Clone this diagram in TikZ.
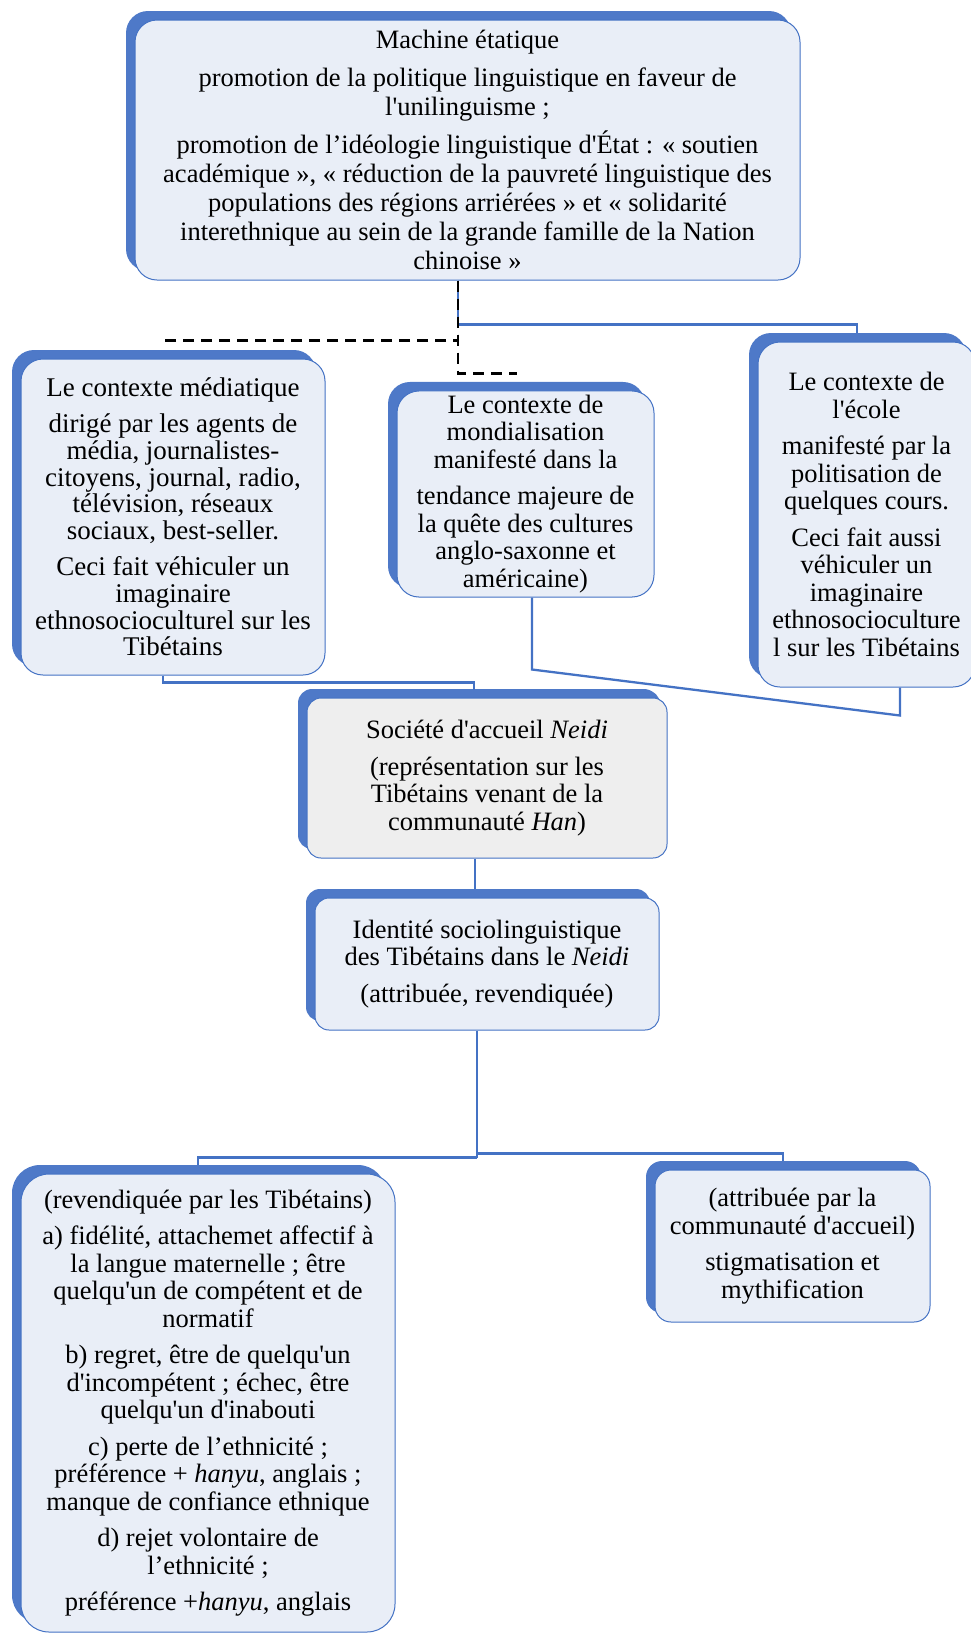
\documentclass[tikz,border=0pt]{standalone}
\usepackage{fontspec}
\setmainfont{Liberation Serif}[Ligatures=TeXOff]
\usetikzlibrary{shadows}
\definecolor{plaque}{RGB}{78,121,200}
\definecolor{trait}{RGB}{68,114,196}
\definecolor{fond}{RGB}{233,238,247}
\definecolor{fondgris}{RGB}{238,238,238}

\begin{document}
\begin{tikzpicture}[x=1pt, y=-1pt,
  cadre/.style={draw=trait, line width=1pt, fill=fond, rounded corners=22pt,
                align=center, inner sep=4pt, font=\fontsize{26.5}{27.5}\selectfont,
                general shadow={shadow xshift=-9pt, shadow yshift=9pt, fill=plaque}},
  cadregris/.style={cadre, fill=fondgris, rounded corners=14pt},
  lien/.style={draw=trait, line width=2.3pt},
  pointille/.style={draw=black, line width=2.3pt, dash pattern=on 11pt off 7pt}
]
  \useasboundingbox (0,0) rectangle (970,1634);

  \node[cadre, minimum width=665pt, minimum height=260pt, font=\fontsize{26.5}{28.9}\selectfont] (etat) at (467.5,150)
    {Machine étatique\\[9pt]
     promotion de la politique linguistique en faveur de\\
     l'unilinguisme ;\\[9pt]
     promotion de l’idéologie linguistique d'État : « soutien\\
     académique », « réduction de la pauvreté linguistique des\\
     populations des régions arriérées » et « solidarité\\
     interethnique au sein de la grande famille de la Nation\\
     chinoise »};
  \node[cadre, minimum width=304pt, minimum height=316pt, font=\fontsize{27}{26.8}\selectfont] (media) at (173,517)
    {Le contexte médiatique\\[9pt]
     dirigé par les agents de\\
     média, journalistes-\\
     citoyens, journal, radio,\\
     télévision, réseaux\\
     sociaux, best-seller.\\[9pt]
     Ceci fait véhiculer un\\
     imaginaire\\
     ethnosocioculturel sur les\\
     Tibétains};
  \node[cadre, minimum width=257pt, minimum height=206pt] (monde) at (525.5,494)
    {Le contexte de\\
     mondialisation\\
     manifesté dans la\\[9pt]
     tendance majeure de\\
     la quête des cultures\\
     anglo-saxonne et\\
     américaine)};
  \node[cadre, minimum width=217pt, minimum height=345pt] (ecole) at (866.5,514.5)
    {Le contexte de\\
     l'école\\[9pt]
     manifesté par la\\
     politisation de\\
     quelques cours.\\[9pt]
     Ceci fait aussi\\
     véhiculer un\\
     imaginaire\\
     ethnosocioculture\\
     l sur les Tibétains};
  \node[cadregris, minimum width=360pt, minimum height=160pt,
        general shadow={shadow xshift=-7pt, shadow yshift=8pt, fill=plaque}] (societe) at (487,778)
    {Société d'accueil \textit{Neidi}\\[9pt]
     (représentation sur les\\
     Tibétains venant de la\\
     communauté \textit{Han})};
  \node[cadre, rounded corners=14pt, minimum width=344pt, minimum height=132pt] (identite) at (487,964)
    {Identité sociolinguistique\\
     des Tibétains dans le \textit{Neidi}\\[9pt]
     (attribuée, revendiquée)};
  \node[cadre, rounded corners=28pt, minimum width=374pt, minimum height=458pt] (revendiquee) at (208,1403)
    {(revendiquée par les Tibétains)\\[9pt]
     a) fidélité, attachemet affectif à\\
     la langue maternelle ; être\\
     quelqu'un de compétent et de\\
     normatif\\[9pt]
     b) regret, être de quelqu'un\\
     d'incompétent ; échec, être\\
     quelqu'un d'inabouti\\[9pt]
     c) perte de l’ethnicité ;\\
     préférence + \textit{hanyu}, anglais ;\\
     manque de confiance ethnique\\[9pt]
     d) rejet volontaire de\\
     l’ethnicité ;\\[9pt]
     préférence +\textit{hanyu}, anglais};
  \node[cadre, rounded corners=16pt, minimum width=275pt, minimum height=152pt] (attribuee) at (792.5,1246)
    {(attribuée par la\\
     communauté d'accueil)\\[9pt]
     stigmatisation et\\
     mythification};

  \coordinate (finmedia) at ([xshift=-10pt, yshift=18pt]media.north);
  \coordinate (finmonde) at ([xshift=-8.5pt, yshift=17pt]monde.north);

  \draw[lien] ([xshift=-9.5pt]etat.south) -- ++(0,44) -| ([xshift=-9.5pt, yshift=9pt]ecole.north);
  \draw[pointille] ([xshift=-9.5pt]etat.south) |- (finmedia);
  \draw[pointille] ([xshift=-9.5pt]etat.south) |- (finmonde);
  \draw[lien] ([xshift=6.5pt]monde.south) -- ++(0,72) -- ([xshift=33.5pt, yshift=-28pt]ecole.south) -- ([xshift=33.5pt]ecole.south);
  \draw[lien] ([xshift=-10pt]media.south) -- ++(0,7) -| ([xshift=-13pt, yshift=8pt]societe.north);
  \draw[lien] ([xshift=-12pt]societe.south) -- ([xshift=-12pt, yshift=9pt]identite.north);
  \draw[lien] ([xshift=-10pt]identite.south) -- ++(0,127) coordinate (fourche);
  \draw[lien] (fourche) -| ([xshift=-10pt, yshift=9pt]revendiquee.north);
  \draw[lien] ([yshift=4pt]fourche) -| ([xshift=-9.5pt, yshift=9pt]attribuee.north);
\end{tikzpicture}
\end{document}
